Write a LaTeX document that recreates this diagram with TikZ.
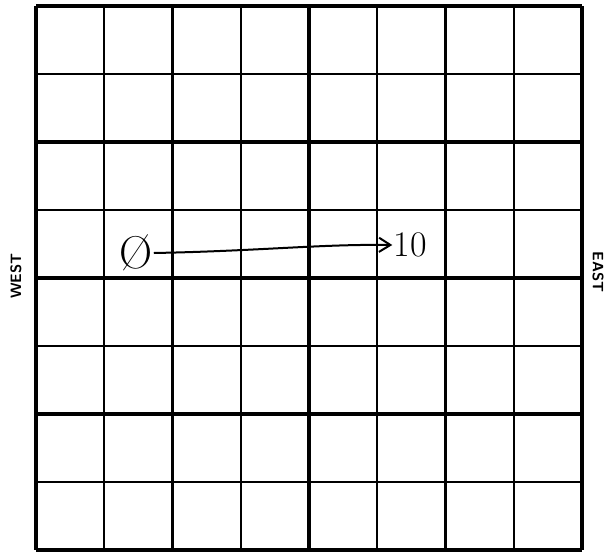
\documentclass[tikz,border=0pt]{standalone}
\usepackage{fontspec}
\usetikzlibrary{arrows.meta,positioning}
\tikzset{
  major/.style={line width=3.2pt,draw=black},
  minor/.style={line width=2pt,draw=black},
  side/.style={font=\sffamily\bfseries\fontsize{15}{17}\selectfont,inner sep=0pt},
  hand/.style={font=\fontsize{36}{36}\selectfont,inner sep=1pt},
  arr/.style={-{Straight Barb[length=4mm,width=5mm]},line width=2pt}
}
\begin{document}
\begin{tikzpicture}[x=1pt,y=-1pt]
  \useasboundingbox (0,0) rectangle (612,552);
  % grid
  \foreach \i in {0,...,8}{
    \pgfmathsetmacro{\gx}{36+68.25*\i}
    \pgfmathsetmacro{\gy}{6+68*\i}
    \ifodd\i
      \draw[minor] (\gx,6) -- (\gx,550);
      \draw[minor] (36,\gy) -- (582,\gy);
    \else
      \draw[major] (\gx,6) -- (\gx,550);
      \draw[major] (36,\gy) -- (582,\gy);
    \fi
  }
  % sides
  \node[side,rotate=90] (west) at (16,276) {WEST};
  \node[side,rotate=-90] (east) at (598,272) {EAST};
  % move
  \node[hand,font=\fontsize{46}{46}\selectfont] (zero) at (136,253) {\O};
  \node[hand] (ten) at (410,245) {10};
  \draw[arr] (zero.east) .. controls (260,251) and (320,244) .. (ten.west);
\end{tikzpicture}
\end{document}
